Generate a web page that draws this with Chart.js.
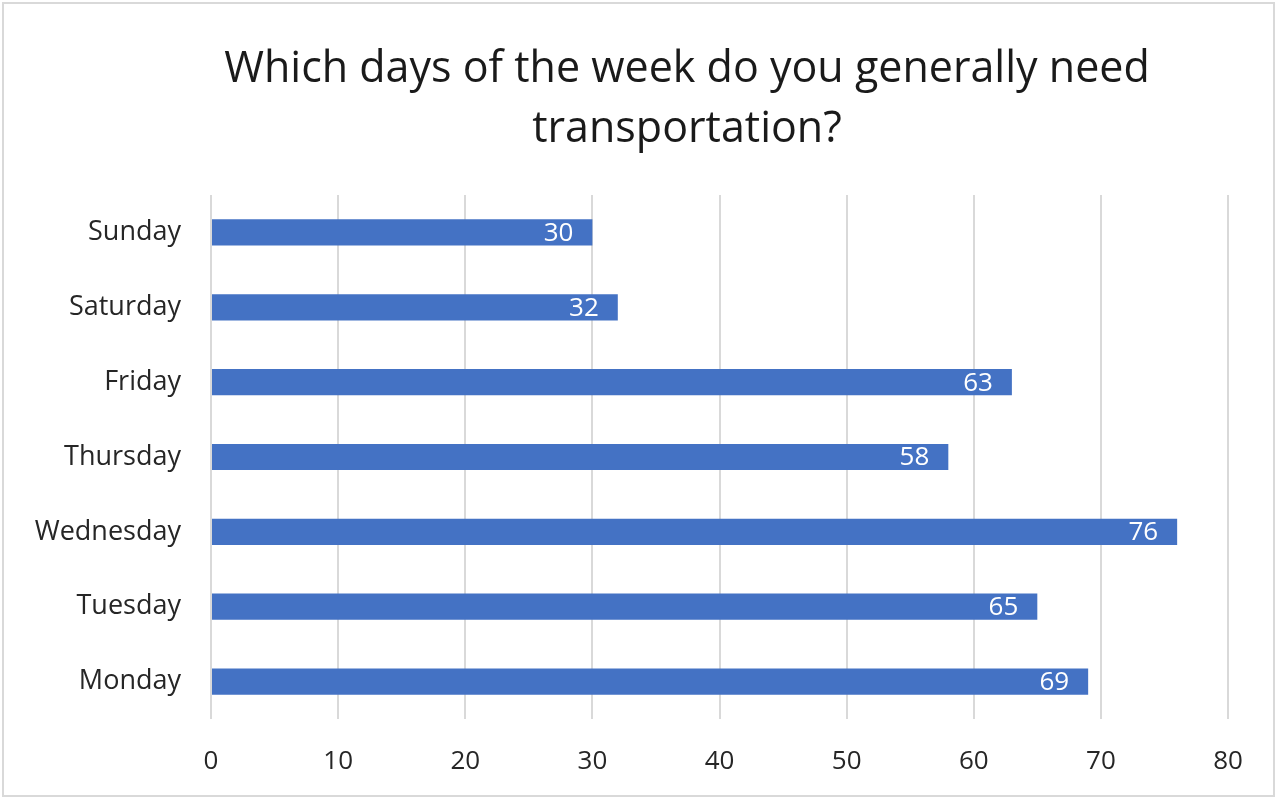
<!DOCTYPE html>
<html lang="en">
<head>
    <meta charset="UTF-8">
    <title>Which days of the week do you generally need transportation?</title>
    <script src="https://cdn.jsdelivr.net/npm/chart.js"></script>
    <style>
        body {
            margin: 0;
            padding: 0;
            background: #fff;
        }
        .frame {
            position: absolute;
            left: 0;
            top: 0;
            width: 1277px;
            height: 799px;
        }
        .frame::after {
            content: '';
            position: absolute;
            left: 2px;
            top: 2px;
            right: 2px;
            bottom: 2px;
            border: 2px solid #d9d9d9;
            pointer-events: none;
        }
    </style>
</head>
<body>
    <div class="frame">
        <canvas id="myChart" width="1277" height="799"></canvas>
    </div>
    <script>
        const days = ['Sunday', 'Saturday', 'Friday', 'Thursday', 'Wednesday', 'Tuesday', 'Monday'];
        const counts = [30, 32, 63, 58, 76, 65, 69];
        const xTicks = [0, 10, 20, 30, 40, 50, 60, 70, 80];
        const titleLines = ['Which days of the week do you generally need', 'transportation?'];

        const FONT = '"Open Sans", "Noto Sans", sans-serif';

        // title drawn by hand so it can sit off-centre like the original
        const chartTitle = {
            id: 'chartTitle',
            afterDraw(chart) {
                const ctx = chart.ctx;
                ctx.save();
                ctx.fillStyle = '#1a1a1a';
                ctx.font = '43px ' + FONT;
                ctx.textAlign = 'center';
                ctx.textBaseline = 'middle';
                titleLines.forEach((line, i) => {
                    ctx.fillText(line, 687, 70 + i * 60);
                });
                ctx.restore();
            }
        };

        // white value labels just inside the end of each bar
        const barLabels = {
            id: 'barLabels',
            afterDatasetsDraw(chart) {
                const ctx = chart.ctx;
                const meta = chart.getDatasetMeta(0);
                ctx.save();
                ctx.fillStyle = '#ffffff';
                ctx.font = '26px ' + FONT;
                ctx.textAlign = 'right';
                ctx.textBaseline = 'middle';
                meta.data.forEach((bar, i) => {
                    ctx.fillText(String(counts[i]), bar.x - 19, bar.y + 1);
                });
                ctx.restore();
            }
        };

        new Chart(document.getElementById('myChart'), {
            type: 'bar',
            data: {
                labels: days,
                datasets: [{
                    data: counts,
                    backgroundColor: '#4472c4',
                    borderWidth: 0,
                    barPercentage: 0.35,
                    categoryPercentage: 1
                }]
            },
            options: {
                indexAxis: 'y',
                responsive: false,
                animation: false,
                layout: {
                    padding: { left: 10, right: 49, top: 195, bottom: 0 }
                },
                plugins: {
                    legend: { display: false },
                    tooltip: { enabled: false },
                    title: { display: false }
                },
                scales: {
                    x: {
                        min: 0,
                        max: 80,
                        afterBuildTicks(scale) {
                            scale.ticks = xTicks.map(v => ({ value: v }));
                        },
                        afterFit(scale) {
                            scale.height = 80;
                        },
                        grid: {
                            color: '#d9d9d9',
                            lineWidth: 2,
                            drawTicks: false
                        },
                        border: { display: false },
                        ticks: {
                            color: '#262626',
                            padding: 27,
                            font: { family: FONT, size: 26 }
                        }
                    },
                    y: {
                        afterFit(scale) {
                            scale.width = 201;
                        },
                        grid: { display: false, drawTicks: false },
                        border: { display: false },
                        ticks: {
                            color: '#262626',
                            padding: 30,
                            font: { family: FONT, size: 27 }
                        }
                    }
                }
            },
            plugins: [barLabels, chartTitle]
        });
    </script>
</body>
</html>
